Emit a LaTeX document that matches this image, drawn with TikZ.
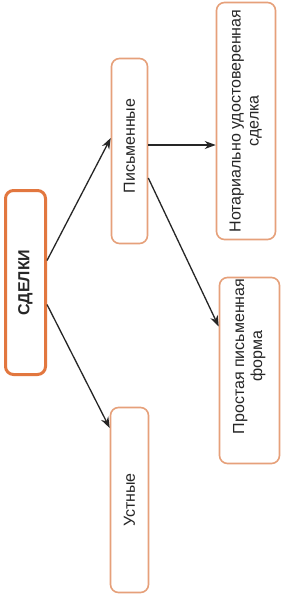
\documentclass[tikz,border=0pt]{standalone}
\usepackage{fontspec}
\setmainfont{Liberation Sans}
\usepackage{graphicx}
\usetikzlibrary{arrows.meta}
\definecolor{boxline}{HTML}{E6A07A}
\definecolor{mainline}{HTML}{E2773F}
\begin{document}
\begin{tikzpicture}[x=1pt,y=-1pt,line join=round,>={Stealth[length=11pt,width=8pt]},font=\fontsize{16}{18}\selectfont,
	box/.style={draw=boxline,line width=1.6pt,rounded corners=8pt,inner sep=0pt,fill=white,text=black!85},
	mainbox/.style={box,draw=mainline,line width=3pt},
	arr/.style={->,line width=1.3pt,black!85}]
			\fill[white] (0,0) rectangle (284,600);
			\useasboundingbox (0,0) rectangle (284,600);
			\node[mainbox,minimum width=40pt,minimum height=184pt] (sd) at (25.5,282.5) {\rotatebox{90}{\bfseries СДЕЛКИ}};
			\node[box,minimum width=36pt,minimum height=185pt] (pis) at (129.5,151) {\rotatebox{90}{\kern10pt Письменные}};
			\node[box,minimum width=38pt,minimum height=185pt] (ust) at (129.5,500) {\rotatebox{90}{Устные}};
			\node[box,minimum width=59pt,minimum height=237pt] (not) at (246,121) {\rotatebox{90}{\begin{tabular}{@{}c@{}}Нотариально удостоверенная\\сделка\end{tabular}}};
			\node[box,minimum width=60pt,minimum height=186pt] (pro) at (249.5,370.5) {\rotatebox{90}{\kern28pt\begin{tabular}{@{}c@{}}Простая письменная\\форма\end{tabular}}};
			\draw[arr] ([yshift=22pt]sd.east)--([yshift=13pt]pis.west);
			\draw[arr] ([yshift=-22pt]sd.east)--([yshift=72pt]ust.west);
			\draw[arr] ([yshift=6pt]pis.east) coordinate (h)--(h -| not.west);
			\draw[arr] ([yshift=-27pt]pis.east)--([yshift=44pt]pro.west);
	\end{tikzpicture}
\end{document}
